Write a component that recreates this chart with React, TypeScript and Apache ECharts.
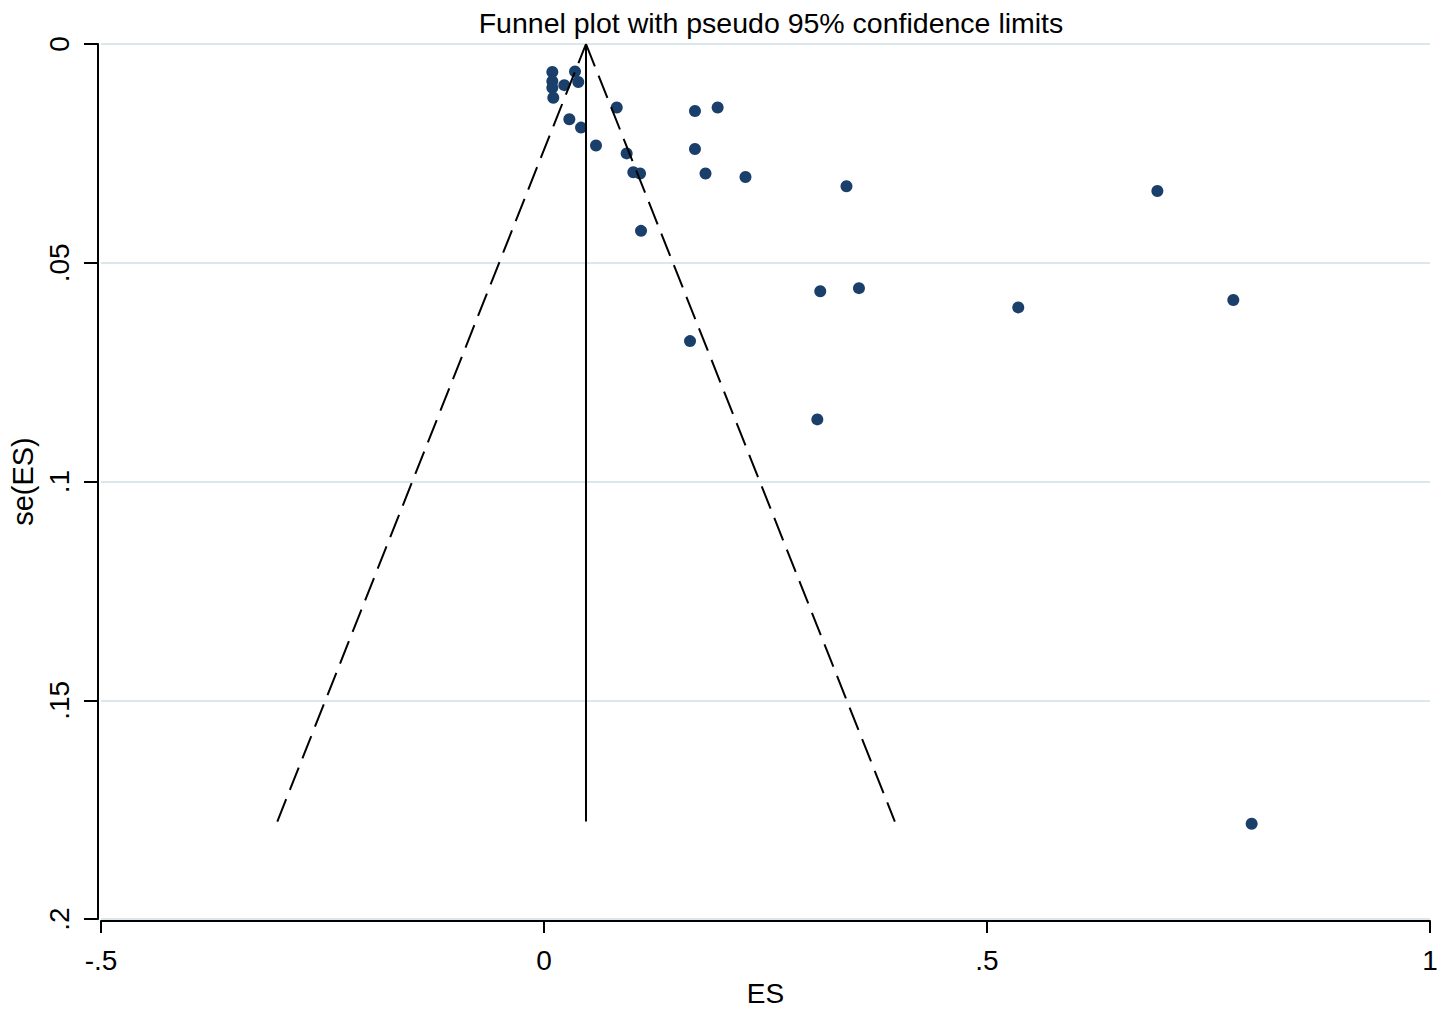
import React, { useEffect, useRef } from "react";
import * as echarts from "echarts";

// Effect sizes (ES) and their standard errors se(ES)
const esValues = [
  0.0094, 0.035, 0.0094, 0.0094, 0.0105, 0.0229, 0.0387, 0.0821, 0.1704, 0.196,
  0.0286, 0.0418, 0.0587, 0.0933, 0.1704, 0.1008, 0.1084, 0.1823, 0.2274, 0.3414,
  0.1095, 0.3118, 0.3555, 0.1648, 0.6923, 0.5353, 0.778, 0.3085, 0.7987,
];
const seValues = [
  0.0064, 0.0063, 0.0085, 0.01, 0.0123, 0.0094, 0.0087, 0.0145, 0.0153, 0.0145,
  0.0172, 0.0191, 0.0232, 0.025, 0.024, 0.0293, 0.0296, 0.0296, 0.0304, 0.0325,
  0.0427, 0.0565, 0.0558, 0.0679, 0.0336, 0.0602, 0.0585, 0.0858, 0.1782,
];

// Pseudo 95% confidence limits and pooled estimate line (end points)
const lowerLimit = [[-0.301, 0.1777], [0.0474, 0]];
const upperLimit = [[0.0474, 0], [0.396, 0.1777]];
const pooledLine = [[0.0474, 0], [0.0474, 0.1777]];

const xTicks = [-0.5, 0, 0.5, 1];
const xTickLabels = ["-.5", "0", ".5", "1"];
const yTicks = [0, 0.05, 0.1, 0.15, 0.2];
const yTickLabels = ["0", ".05", ".1", ".15", ".2"];

const titleText = "Funnel plot with pseudo 95% confidence limits";
const xName = "ES";
const yName = "se(ES)";

const FONT = "'Liberation Sans', Arial, sans-serif";

function labelFor(ticks: number[], labels: string[]) {
  return (v: number) => {
    for (let i = 0; i < ticks.length; i++) {
      if (Math.abs(ticks[i] - v) < 1e-9) return labels[i];
    }
    return "";
  };
}

export default function App() {
  const ref = useRef<HTMLDivElement>(null);
  useEffect(() => {
    if (!ref.current) return;
    const chart = echarts.init(ref.current, undefined, { renderer: "svg" });
    const points = esValues.map((x, i) => [x, seValues[i]]);
    chart.setOption({
      animation: false,
      backgroundColor: "#ffffff",
      title: {
        text: titleText,
        left: 766,
        top: 3,
        textAlign: "center",
        textStyle: { fontFamily: FONT, fontSize: 28.5, fontWeight: "normal", color: "#000" },
      },
      grid: { left: 101, right: 16, top: 44, bottom: 84, containLabel: false },
      xAxis: {
        type: "value",
        min: -0.5,
        max: 1,
        interval: 0.5,
        offset: 2,
        name: xName,
        nameLocation: "middle",
        nameGap: 55,
        nameTextStyle: { fontFamily: FONT, fontSize: 28, color: "#000" },
        axisLine: { show: true, onZero: false, lineStyle: { color: "#000", width: 2 } },
        axisTick: { show: true, length: 12, lineStyle: { color: "#000", width: 2 } },
        axisLabel: {
          fontFamily: FONT,
          fontSize: 28,
          color: "#000",
          margin: 25,
          formatter: labelFor(xTicks, xTickLabels),
        },
        splitLine: { show: false },
      },
      yAxis: {
        type: "value",
        inverse: true,
        min: 0,
        max: 0.2,
        interval: 0.05,
        offset: 3,
        name: yName,
        nameLocation: "middle",
        nameRotate: 90,
        nameGap: 57,
        nameTextStyle: { fontFamily: FONT, fontSize: 29, color: "#000" },
        axisLine: { show: true, onZero: false, lineStyle: { color: "#000", width: 2 } },
        axisTick: { show: true, length: 14, lineStyle: { color: "#000", width: 2 } },
        axisLabel: {
          fontFamily: FONT,
          fontSize: 28,
          color: "#000",
          rotate: 90,
          margin: 25,
          formatter: labelFor(yTicks, yTickLabels),
        },
        splitLine: { show: true, lineStyle: { color: "#dbe8eb", width: 2 } },
      },
      series: [
        {
          type: "line",
          data: lowerLimit,
          symbol: "none",
          lineStyle: { color: "#000", width: 2, type: [24, 10] },
          silent: true,
        },
        {
          type: "line",
          data: upperLimit,
          symbol: "none",
          lineStyle: { color: "#000", width: 2, type: [24, 10] },
          silent: true,
        },
        {
          type: "line",
          data: pooledLine,
          symbol: "none",
          lineStyle: { color: "#000", width: 2 },
          silent: true,
        },
        {
          type: "scatter",
          data: points,
          symbol: "circle",
          symbolSize: 12,
          itemStyle: { color: "#1a3f6b", opacity: 1 },
        },
      ],
    });
    return () => chart.dispose();
  }, []);
  return (
    <div
      ref={ref}
      style={{ position: "fixed", left: 0, top: 0, width: 1446, height: 1012, background: "#fff" }}
    />
  );
}
